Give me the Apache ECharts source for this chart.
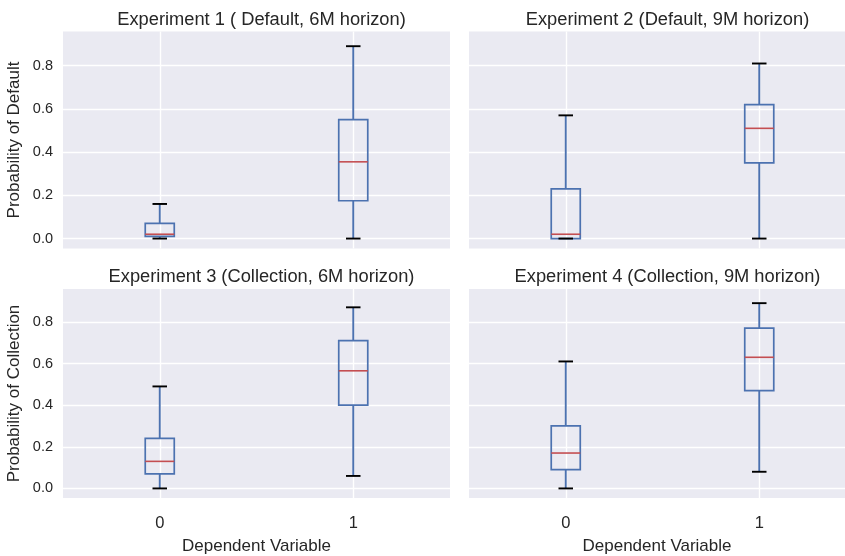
<!DOCTYPE html>
<html>
<head>
<meta charset="utf-8">
<script src="https://cdn.jsdelivr.net/npm/echarts@6/dist/echarts.min.js"></script>
<style>
  html, body { margin: 0; padding: 0; background: #ffffff; }
  #chart { width: 845px; height: 556px; }
</style>
</head>
<body>
<div id="chart"></div>
<script>
// Group labels on the x axis (Dependent Variable)
const categories = ['0', '1'];

// Panel titles
const titles = [
  'Experiment 1 ( Default, 6M horizon)',
  'Experiment 2 (Default, 9M horizon)',
  'Experiment 3 (Collection, 6M horizon)',
  'Experiment 4 (Collection, 9M horizon)'
];

// Box statistics per group: [lower whisker, Q1, median, Q3, upper whisker]
const exp1 = [
  [0.00, 0.01, 0.02, 0.07, 0.16],
  [0.00, 0.175, 0.355, 0.55, 0.89]
];
const exp2 = [
  [0.00, 0.00, 0.02, 0.23, 0.57],
  [0.00, 0.35, 0.51, 0.62, 0.81]
];
const exp3 = [
  [0.00, 0.07, 0.13, 0.24, 0.49],
  [0.06, 0.40, 0.565, 0.71, 0.87]
];
const exp4 = [
  [0.00, 0.09, 0.17, 0.30, 0.61],
  [0.08, 0.47, 0.63, 0.77, 0.89]
];

// Y tick labels
const yTicks = [0.0, 0.2, 0.4, 0.6, 0.8];

const yNames = ['Probability of Default', '', 'Probability of Collection', ''];
const xName = 'Dependent Variable';

const panels = [exp1, exp2, exp3, exp4];

const FONT = '"Liberation Sans", Arial, "DejaVu Sans", sans-serif';
const TEXT = '#262626';
const BOX = '#4C72B0';
const MEDIAN = '#C44E52';
const CAP = '#000000';

const chart = echarts.init(document.getElementById('chart'), null, { renderer: 'canvas' });

// Each panel spans 387px for the x range 0.5..2.5; the right column runs
// past the page edge, so its visible part ends earlier in data units.
const PANEL_W = 387;
const PAGE_W = 845;
const gridPos = [
  { left: 63, top: 31.5, width: PANEL_W, height: 217 },
  { left: 469, top: 31.5, width: PAGE_W - 469, height: 217 },
  { left: 63, top: 289, width: PANEL_W, height: 217 },
  { left: 469, top: 289, width: PAGE_W - 469, height: 217 }
];
const xSpan = categories.length;           // 0.5 .. n + 0.5
const pxPerUnit = PANEL_W / xSpan;

const xTickValues = categories.map((c, i) => i + 1);

function renderBox(params, api) {
  const x = api.value(0);
  const lo = api.value(1), q1 = api.value(2), med = api.value(3), q3 = api.value(4), hi = api.value(5);
  const boxW = api.size([0.15, 0])[0];
  const capW = api.size([0.075, 0])[0];
  const pLo = api.coord([x, lo]);
  const pQ1 = api.coord([x, q1]);
  const pMed = api.coord([x, med]);
  const pQ3 = api.coord([x, q3]);
  const pHi = api.coord([x, hi]);
  const cx = pMed[0];
  const children = [
    { type: 'line', shape: { x1: cx, y1: pQ1[1], x2: cx, y2: pLo[1] },
      style: { stroke: BOX, lineWidth: 1.9 } },
    { type: 'line', shape: { x1: cx, y1: pQ3[1], x2: cx, y2: pHi[1] },
      style: { stroke: BOX, lineWidth: 1.9 } },
    { type: 'rect', shape: { x: cx - boxW / 2, y: pQ3[1], width: boxW, height: pQ1[1] - pQ3[1] },
      style: { fill: 'none', stroke: BOX, lineWidth: 1.7 } },
    { type: 'line', shape: { x1: cx - boxW / 2, y1: pMed[1], x2: cx + boxW / 2, y2: pMed[1] },
      style: { stroke: MEDIAN, lineWidth: 1.6 } },
    { type: 'line', shape: { x1: cx - capW / 2, y1: pLo[1], x2: cx + capW / 2, y2: pLo[1] },
      style: { stroke: CAP, lineWidth: 1.9 } },
    { type: 'line', shape: { x1: cx - capW / 2, y1: pHi[1], x2: cx + capW / 2, y2: pHi[1] },
      style: { stroke: CAP, lineWidth: 1.9 } }
  ];
  return { type: 'group', children: children };
}

const option = {
  backgroundColor: '#ffffff',
  animation: false,
  title: titles.map((t, i) => ({
    text: t,
    left: gridPos[i].left + PANEL_W / 2,
    top: i < 2 ? 6 : 263,
    textAlign: 'center',
    textStyle: { fontFamily: FONT, fontSize: 18.3, fontWeight: 'normal', color: TEXT }
  })),
  grid: gridPos.map(g => Object.assign({ containLabel: false, backgroundColor: '#EAEAF2', show: true, borderWidth: 0 }, g)),
  xAxis: gridPos.map((g, i) => ({
    type: 'value',
    gridIndex: i,
    min: 0.5,
    max: 0.5 + g.width / pxPerUnit,
    name: i >= 2 ? xName : '',
    nameLocation: 'middle',
    nameGap: 40,
    nameTextStyle: { fontFamily: FONT, fontSize: 17, color: TEXT },
    axisLine: { show: false },
    axisTick: { show: false, customValues: xTickValues },
    axisLabel: {
      show: i >= 2,
      customValues: xTickValues,
      formatter: v => categories[Math.round(v) - 1],
      fontFamily: FONT, fontSize: 16.5, color: TEXT, margin: 17
    },
    splitLine: { show: true, lineStyle: { color: '#ffffff', width: 1.4 } }
  })),
  yAxis: gridPos.map((g, i) => ({
    type: 'value',
    gridIndex: i,
    min: -0.046,
    max: 0.958,
    name: yNames[i],
    nameLocation: 'middle',
    nameGap: 40,
    nameTextStyle: { fontFamily: FONT, fontSize: 17, color: TEXT },
    axisLine: { show: false },
    axisTick: { show: false, customValues: yTicks },
    axisLabel: {
      show: i % 2 === 0,
      customValues: yTicks,
      formatter: v => v.toFixed(1),
      fontFamily: FONT, fontSize: 14.5, color: TEXT, margin: 10
    },
    splitLine: { show: true, lineStyle: { color: '#ffffff', width: 1.4 } }
  })),
  series: panels.map((stats, i) => ({
    type: 'custom',
    xAxisIndex: i,
    yAxisIndex: i,
    z: 5,
    silent: true,
    renderItem: renderBox,
    encode: { x: 0, y: [1, 2, 3, 4, 5] },
    data: stats.map((s, k) => [k + 1].concat(s))
  }))
};

chart.setOption(option);
</script>
</body>
</html>
